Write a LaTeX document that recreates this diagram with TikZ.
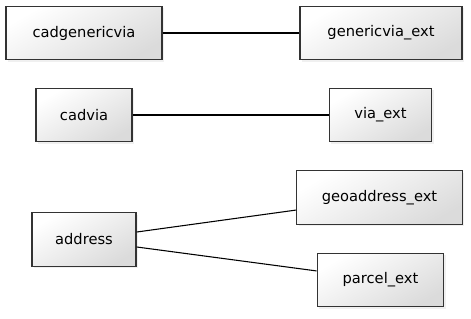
\documentclass[tikz,border=0pt]{standalone}
\usepackage{fontspec}
\setmainfont{DejaVu Sans}
\usetikzlibrary{shadows}

\begin{document}
\begin{tikzpicture}[x=0.75pt,y=-0.75pt,
    tbl/.style={draw=black!80,line width=0.9pt,top color=white,bottom color=black!14,
        shading angle=30,drop shadow={opacity=0.12,shadow xshift=1.5pt,shadow yshift=-1.5pt},
        minimum height=40pt,inner sep=0pt,font=\fontsize{11}{13}\selectfont},
    link/.style={line width=0.8pt}]
    \useasboundingbox (0,0) rectangle (471,318);
    \node[tbl,minimum width=117pt] (cadgenericvia) at (84,33) {cadgenericvia};
    \node[tbl,minimum width=121.5pt] (genericvia) at (381,33) {genericvia\_ext};
    \node[tbl,minimum width=72pt] (cadvia) at (84,115) {cadvia};
    \node[tbl,minimum width=77pt] (via) at (380.5,115) {via\_ext};
    \node[tbl,minimum width=78pt] (address) at (84,239.5) {address};
    \node[tbl,minimum width=124pt] (geoaddress) at (379.5,197.5) {geoaddress\_ext};
    \node[tbl,minimum width=95pt] (parcel) at (380.5,280) {parcel\_ext};

    \draw[link] (cadgenericvia) -- (genericvia);
    \draw[link] (cadvia) -- (via);
    \draw[link] ([yshift=5.6pt]address.east) -- ([yshift=-9.4pt]geoaddress.west);
    \draw[link] ([yshift=-5.6pt]address.east) -- ([yshift=6.8pt]parcel.west);
\end{tikzpicture}
\end{document}
